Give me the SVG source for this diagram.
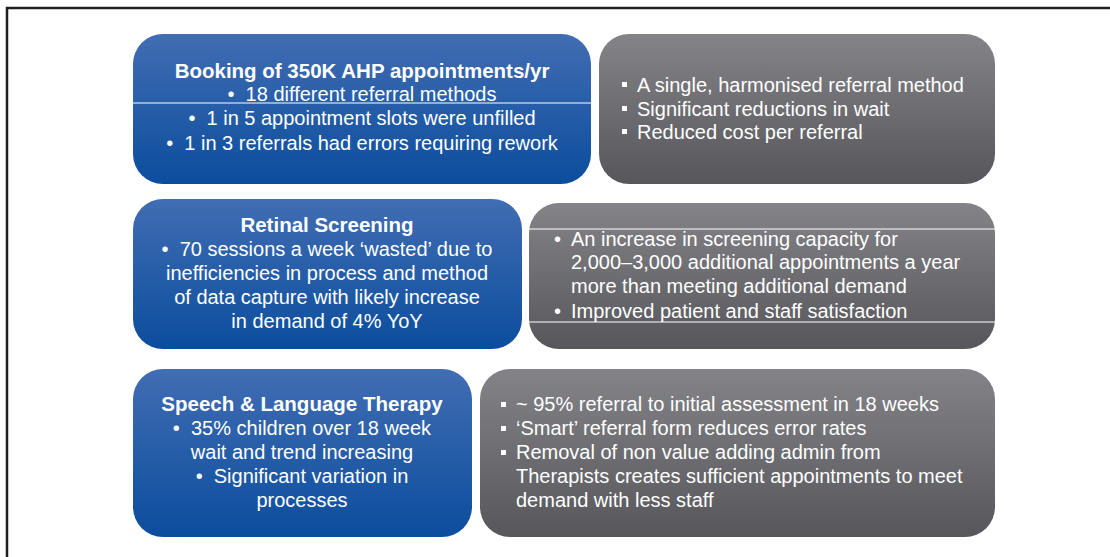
<svg xmlns="http://www.w3.org/2000/svg" width="1110" height="557" viewBox="0 0 1110 557">
<defs>
<linearGradient id="blue" x1="0" y1="0" x2="0" y2="1">
<stop offset="0" stop-color="#416db3"/>
<stop offset="1" stop-color="#0b4d9d"/>
</linearGradient>
<linearGradient id="gray" x1="0" y1="0" x2="0" y2="1">
<stop offset="0" stop-color="#838388"/>
<stop offset="1" stop-color="#57575b"/>
</linearGradient>
<style>
.b{fill:url(#blue)}
.g{fill:url(#gray)}
text{font-family:"Liberation Sans",Arial,sans-serif;font-size:20px;fill:#ffffff}
.c{text-anchor:middle}
.h{font-weight:bold;font-size:20.5px}
.sq{fill:#ffffff}
.ln{stroke:#ffffff;stroke-width:1.2}
</style>
</defs>
<rect x="0" y="0" width="1110" height="557" fill="#ffffff"/>
<rect x="7" y="8" width="1110" height="560" fill="none" stroke="#1e1e1e" stroke-width="2.5"/>

<g id="booking">
<rect class="b" x="133" y="34" width="458" height="150" rx="30"/>
<line class="ln" x1="133" y1="103" x2="591" y2="103"/>
<text class="c h" x="362" y="78">Booking of 350K AHP appointments/yr</text>
<text class="c" x="362" y="101">•&#160;&#160;18 different referral methods</text>
<text class="c" x="362" y="125">•&#160;&#160;1 in 5 appointment slots were unfilled</text>
<text class="c" x="362" y="150">•&#160;&#160;1 in 3 referrals had errors requiring rework</text>
</g>

<g id="booking-result">
<rect class="g" x="599" y="34" width="396" height="150" rx="30"/>
<rect class="sq" x="622" y="82" width="5" height="5"/>
<rect class="sq" x="622" y="106" width="5" height="5"/>
<rect class="sq" x="622" y="129" width="5" height="5"/>
<text x="637" y="92">A single, harmonised referral method</text>
<text x="637" y="116">Significant reductions in wait</text>
<text x="637" y="139">Reduced cost per referral</text>
</g>

<g id="retinal">
<rect class="b" x="133" y="199" width="389" height="150" rx="30"/>
<text class="c h" x="327" y="232">Retinal Screening</text>
<text class="c" x="327" y="256">•&#160;&#160;70 sessions a week ‘wasted’ due to</text>
<text class="c" x="327" y="280">inefficiencies in process and method</text>
<text class="c" x="327" y="304">of data capture with likely increase</text>
<text class="c" x="327" y="328">in demand of 4% YoY</text>
</g>

<g id="retinal-result">
<rect class="g" x="529" y="203" width="466" height="146" rx="30"/>
<line class="ln" x1="529" y1="229" x2="995" y2="229"/>
<line class="ln" x1="529" y1="322" x2="995" y2="322"/>
<text x="554" y="246">•</text>
<text x="571" y="246">An increase in screening capacity for</text>
<text x="571" y="269">2,000–3,000 additional appointments a year</text>
<text x="571" y="293">more than meeting additional demand</text>
<text x="554" y="318">•</text>
<text x="571" y="318">Improved patient and staff satisfaction</text>
</g>

<g id="speech">
<rect class="b" x="133" y="369" width="339" height="168" rx="30"/>
<text class="c h" x="302" y="411">Speech &amp; Language Therapy</text>
<text class="c" x="302" y="435">•&#160;&#160;35% children over 18 week</text>
<text class="c" x="302" y="459">wait and trend increasing</text>
<text class="c" x="302" y="483">•&#160;&#160;Significant variation in</text>
<text class="c" x="302" y="507">processes</text>
</g>

<g id="speech-result">
<rect class="g" x="480" y="369" width="515" height="168" rx="30"/>
<rect class="sq" x="501" y="402" width="5" height="5"/>
<rect class="sq" x="501" y="426" width="5" height="5"/>
<rect class="sq" x="501" y="450" width="5" height="5"/>
<text x="516" y="411">~ 95% referral to initial assessment in 18 weeks</text>
<text x="516" y="435">‘Smart’ referral form reduces error rates</text>
<text x="516" y="459">Removal of non value adding admin from</text>
<text x="516" y="483">Therapists creates sufficient appointments to meet</text>
<text x="516" y="507">demand with less staff</text>
</g>

<g id="connectors"></g>
</svg>
